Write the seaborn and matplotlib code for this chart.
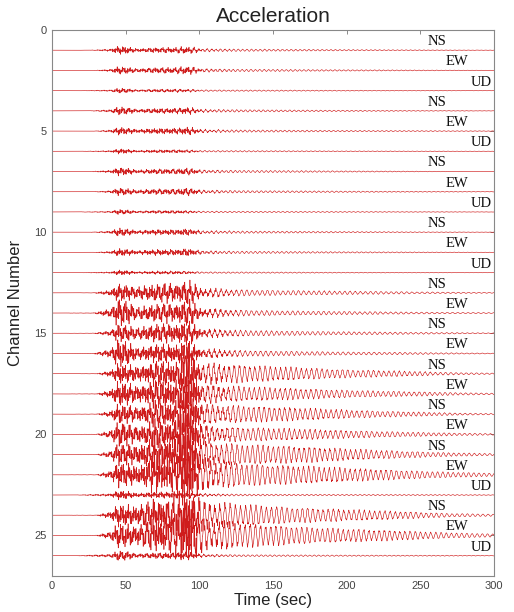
import numpy as np
import pandas as pd
import matplotlib
matplotlib.use("Agg")
import matplotlib.pyplot as plt
import seaborn as sns

# ---------------- data ----------------
channels = list(range(1, 27))
components = ["NS", "EW", "UD"] * 4 + ["NS", "EW", "NS", "EW", "NS", "EW",
                                        "NS", "EW", "NS", "EW", "UD", "NS", "EW", "UD"]
# onset time of visible motion (s)
onset = [25, 28, 18, 25, 28, 18, 25, 28, 18, 25, 28, 18,
         28, 28, 28, 28, 30, 30, 30, 30, 30, 30, 16, 30, 30, 16]
# envelope amplitude (in channel units) at the first burst (~45-50 s)
amp_p = [0.16, 0.15, 0.10, 0.16, 0.15, 0.10, 0.16, 0.15, 0.10, 0.16, 0.15, 0.10,
         0.35, 0.55, 0.35, 0.55, 0.40, 0.50, 0.40, 0.50, 0.45, 0.50, 0.18, 0.45, 0.50, 0.20]
# envelope amplitude at ~65-85 s
amp_mid = [0.10, 0.11, 0.06, 0.10, 0.11, 0.06, 0.10, 0.11, 0.06, 0.10, 0.11, 0.06,
           0.35, 0.35, 0.35, 0.35, 0.45, 0.50, 0.45, 0.50, 0.60, 0.60, 0.12, 0.60, 0.60, 0.12]
# envelope amplitude at the main pulse (~90-93 s)
amp_s = [0.13, 0.15, 0.05, 0.13, 0.15, 0.05, 0.13, 0.15, 0.05, 0.13, 0.15, 0.05,
         0.45, 0.50, 0.45, 0.50, 0.90, 0.90, 0.90, 0.90, 1.00, 1.20, 0.15, 1.00, 1.20, 0.15]
# long-period coda amplitude at ~110-130 s
amp_tail = [0.05, 0.05, 0.03, 0.05, 0.05, 0.03, 0.05, 0.05, 0.03, 0.05, 0.05, 0.03,
            0.13, 0.12, 0.12, 0.12, 0.35, 0.30, 0.35, 0.30, 0.45, 0.50, 0.04, 0.45, 0.50, 0.04]
# long-period coda amplitude at the end of the record
amp_end = [0.01, 0.015, 0.01, 0.01, 0.015, 0.01, 0.01, 0.015, 0.01, 0.01, 0.015, 0.01,
           0.03, 0.03, 0.03, 0.03, 0.05, 0.06, 0.05, 0.06, 0.08, 0.12, 0.02, 0.08, 0.12, 0.02]
# dominant period of the coda (s)
tail_period = [3.0] * 12 + [3.5] * 10 + [3.0, 3.5, 3.5, 3.0]

x_ticks = [0, 50, 100, 150, 200, 250, 300]
y_ticks = [0, 5, 10, 15, 20, 25]
label_time = {"NS": 255, "EW": 267, "UD": 284}

# ---------------- build traces ----------------
t = np.arange(0, 300.001, 0.05)
rows = []
for i, ch in enumerate(channels):
    p, m, s, ta, en = amp_p[i], amp_mid[i], amp_s[i], amp_tail[i], amp_end[i]
    hf_kt = [0, onset[i], 40, 45, 50, 58, 70, 85, 91, 95, 102, 130, 300]
    hf_kv = [0, 0.02 * p, 0.3 * p, p, 0.9 * p, 0.6 * m, m, m, s, 0.8 * s, 0.25 * s, 0.2 * ta, 0]
    lp_kt = [0, 50, 80, 100, 130, 200, 270, 300]
    lp_kv = [0, 0, ta * 0.6, ta, ta, (ta + en) * 0.45, en, en * 0.6]
    env_hf = np.interp(t, hf_kt, hf_kv)
    env_lp = np.interp(t, lp_kt, lp_kv)
    ph = 0.7 * ch
    carrier = (0.5 * np.sin(2 * np.pi * 1.13 * t + ph)
               + 0.35 * np.sin(2 * np.pi * 1.71 * t + 2.1 * ph)
               + 0.4 * np.sin(2 * np.pi * 0.23 * t + 0.5 * ph))
    coda = np.sin(2 * np.pi * t / tail_period[i] + ph)
    wave = env_hf * carrier / 0.9 + env_lp * coda
    rows.append(pd.DataFrame({"t": t, "pos": ch - wave, "channel": ch}))
df = pd.concat(rows, ignore_index=True)

# ---------------- plot ----------------
sns.set_style("white")
plt.rcParams["font.family"] = ["Liberation Sans", "DejaVu Sans"]

fig = plt.figure(figsize=(5.14, 6.12), dpi=100)
ax = fig.add_axes([0.101, 0.059, 0.860, 0.892])

sns.lineplot(data=df, x="t", y="pos", units="channel", estimator=None, sort=False,
             color="#cf1c1c", linewidth=0.45, ax=ax, legend=False)

for ch, comp in zip(channels, components):
    ax.text(label_time[comp], ch - 0.1, comp, family=["Liberation Serif", "DejaVu Serif"],
            fontsize=10.5, color="#111111", ha="left", va="bottom")

ax.set_xlim(0, 300)
ax.set_ylim(27, 0)
ax.set_xticks(x_ticks)
ax.set_yticks(y_ticks)
ax.tick_params(direction="in", top=True, right=True, length=3, width=0.6,
               labelsize=8, labelcolor="#444444", color="#777777", pad=4)
for sp in ax.spines.values():
    sp.set_color("#888888")
    sp.set_linewidth(0.8)
ax.set_xlabel("Time (sec)", fontsize=12, color="#222222", labelpad=1)
ax.set_ylabel("Channel Number", fontsize=12, color="#222222", labelpad=8)
ax.set_title("Acceleration", fontsize=15, color="#222222", pad=6)

fig.savefig("out.png", dpi=100)
